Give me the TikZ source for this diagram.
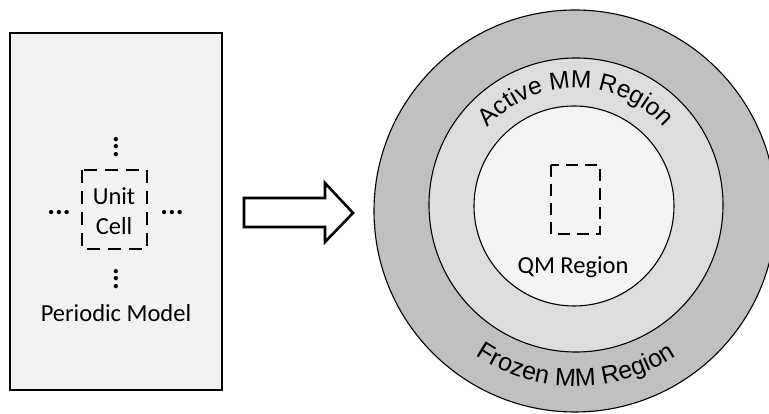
\documentclass[tikz,border=0pt]{standalone}
\usepackage{fontspec}
\setmainfont{Carlito}
\newfontfamily\arialf{Liberation Sans}
\usetikzlibrary{decorations.text}
\definecolor{boxfill}{HTML}{F2F2F2}
\definecolor{outerring}{HTML}{C0C0C0}
\definecolor{midring}{HTML}{DDDDDD}
\definecolor{innerfill}{HTML}{F3F3F3}
\begin{document}
\begin{tikzpicture}[x=1pt,y=1pt,
  lbl/.style={font=\fontsize{24.5}{30}\selectfont, inner sep=0pt, align=center},
  dotlbl/.style={font=\bfseries\fontsize{29}{30}\selectfont, inner sep=0pt},
  cellbox/.style={draw=black, line width=2.8pt, dash pattern=on 13pt off 8pt},
  qmbox/.style={draw=black, line width=2.6pt, dash pattern=on 12pt off 7pt},
  ring/.style={draw=black, line width=1.1pt},
  blockarrow/.style={draw=black, fill=white, line width=2.6pt, line join=miter}]
\useasboundingbox (0,0) rectangle (769,414);
% left panel
\draw[fill=boxfill, draw=black, line width=1.6pt] (10,24) rectangle (222,381);
\draw[cellbox] (82,244) rectangle (147,165);
\node[lbl] (cell) at (114,203) {Unit\\Cell};
\node[dotlbl, rotate=90, anchor=center] (dtop) at (116,267) {...};
\node[dotlbl, rotate=90, anchor=center] (dbot) at (116,135) {...};
\node[dotlbl, anchor=center] (dleft) at (59,201) {...};
\node[dotlbl, anchor=center] (dright) at (172,201) {...};
\node[lbl] (pm) at (116,101) {Periodic Model};
% block arrow
\draw[blockarrow] (244,216) -- (325,216) -- (325,231) -- (353,201) -- (325,172) -- (325,187) -- (244,187) -- cycle;
% circles
\coordinate (ctr) at (576,209);
\begin{scope}
\clip (0,0) rectangle (769,414);
\draw[ring, fill=outerring] (575,203) circle[radius=201pt];
\end{scope}
\draw[ring, fill=midring] (ctr) circle[radius=147pt];
\draw[ring, fill=innerfill] (574,208) circle[radius=100pt];
\draw[qmbox] (551,249) rectangle (600,180);
\node[lbl] (qm) at (573,147) {QM Region};
\path[decorate, decoration={text along path, text align=center,
  text={|\arialf\fontsize{24.5}{24.5}\selectfont|Active MM Region}}]
  ([shift={(170:117pt)}]ctr) arc[start angle=170, end angle=10, radius=117pt];
\path[decorate, decoration={text along path, text align=center,
  text={|\arialf\fontsize{25}{25}\selectfont|Frozen MM Region}}]
  ([shift={(195:181pt)}]ctr) arc[start angle=195, end angle=345, radius=181pt];
\end{tikzpicture}
\end{document}
